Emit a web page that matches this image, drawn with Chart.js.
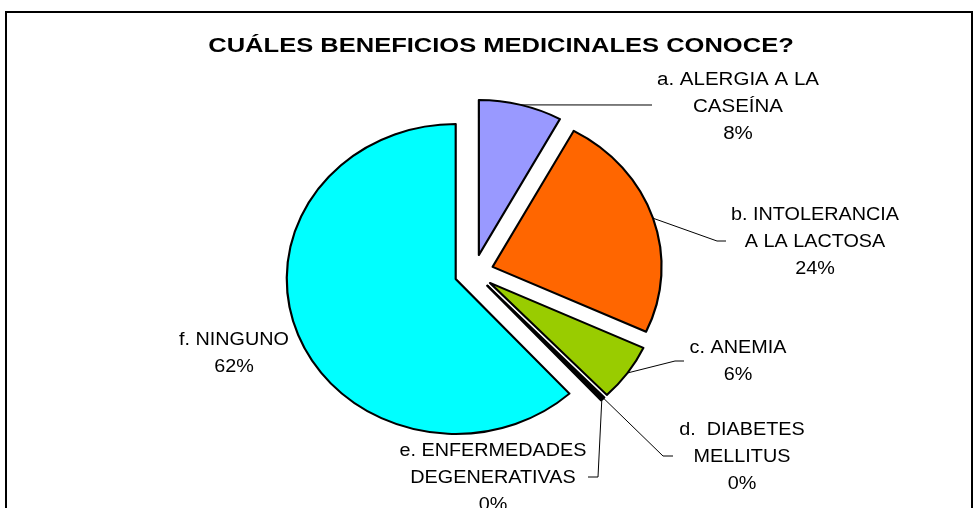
<!DOCTYPE html>
<html>
<head>
<meta charset="utf-8">
<script src="https://cdn.jsdelivr.net/npm/chart.js@4.4.1/dist/chart.umd.min.js"></script>
<style>
    html, body { margin: 0; padding: 0; background: #fff; overflow: hidden; }
    canvas { display: block; }
</style>
</head>
<body>
<canvas id="pieChart" width="979" height="508"></canvas>
<script>
// === DATOS ===
const titulo = 'CUÁLES BENEFICIOS MEDICINALES CONOCE?';
const categorias = ['a. ALERGIA A LA CASEÍNA', 'b. INTOLERANCIA A LA LACTOSA', 'c. ANEMIA',
    'd. DIABETES MELLITUS', 'e. ENFERMEDADES DEGENERATIVAS', 'f. NINGUNO'];
const valores = [8, 24, 6, 0.2, 0.2, 62];
const colores = ['#9999FF', '#FF6600', '#99CC00', '#FFFFCC', '#CCFFFF', '#00FFFF'];

// texto de los rótulos (el porcentaje se calcula)
const rotulos = [
    ['a. ALERGIA A LA', 'CASEÍNA'],
    ['b. INTOLERANCIA', 'A LA LACTOSA'],
    ['c. ANEMIA'],
    ['d.  DIABETES', 'MELLITUS'],
    ['e. ENFERMEDADES', 'DEGENERATIVAS'],
    ['f. NINGUNO']
];

// posición de rótulos y líneas guía (px)
const posRotulos = [
    { x: 738, y: 80, guia: [[652, 105]] },
    { x: 815, y: 215, guia: [[717, 241], [726, 241]] },
    { x: 738, y: 348, guia: [[675, 361], [684, 361]] },
    { x: 742, y: 430, guia: [[663, 456], [673, 456]] },
    { x: 493, y: 451, guia: [[598, 477], [588, 477]] },
    { x: 234, y: 340, guia: null }
];

const ESTIRAR = 1.09;   // el gráfico original está algo ensanchado
const SEPARAR = 18;     // separación de las porciones
const FUENTE = '"Liberation Sans", Arial, sans-serif';

const total = valores.reduce((s, v) => s + v, 0);

function textoEstirado(ctx, txt, x, y, esc) {
    ctx.save();
    ctx.translate(x, y);
    ctx.scale(esc, 1);
    ctx.fillText(txt, 0, 0);
    ctx.restore();
}

// marco del gráfico
const marcoPlugin = {
    id: 'marco',
    beforeDraw(chart) {
        const ctx = chart.ctx;
        ctx.save();
        ctx.fillStyle = '#fff';
        ctx.fillRect(0, 0, chart.width, chart.height);
        ctx.strokeStyle = '#000';
        ctx.lineWidth = 2;
        ctx.strokeRect(6, 12, 966, 600);
        ctx.restore();
    }
};

// porciones separadas (y ensanchadas) usando el propio dibujo de Chart.js
const separarPlugin = {
    id: 'separar',
    beforeDatasetsDraw(chart) {
        const ctx = chart.ctx;
        const meta = chart.getDatasetMeta(0);
        meta.data.forEach(arc => {
            const { x, y, startAngle, endAngle } = arc.getProps(['x', 'y', 'startAngle', 'endAngle'], true);
            const mid = (startAngle + endAngle) / 2;
            ctx.save();
            ctx.translate(x + Math.cos(mid) * SEPARAR * ESTIRAR, y + Math.sin(mid) * SEPARAR);
            ctx.scale(ESTIRAR, 1);
            ctx.translate(-x, -y);
            arc.draw(ctx);
            ctx.restore();
        });
        return false;
    }
};

// título, rótulos y líneas guía
const rotulosPlugin = {
    id: 'rotulos',
    afterDraw(chart) {
        const ctx = chart.ctx;
        const meta = chart.getDatasetMeta(0);
        ctx.save();
        ctx.fillStyle = '#000';
        ctx.textAlign = 'center';
        ctx.textBaseline = 'middle';

        ctx.font = 'bold 21px ' + FUENTE;
        textoEstirado(ctx, titulo, 501, 46, 1.215);

        ctx.font = '18px ' + FUENTE;
        meta.data.forEach((arc, i) => {
            const p = posRotulos[i];
            const lineas = rotulos[i].concat([Math.round(valores[i] / total * 100) + '%']);
            lineas.forEach((l, j) => textoEstirado(ctx, l, p.x, p.y + j * 27, i === 0 ? 1.14 : 1.1));

            if (p.guia) {
                const { x, y, startAngle, endAngle, outerRadius } =
                    arc.getProps(['x', 'y', 'startAngle', 'endAngle', 'outerRadius'], true);
                const mid = (startAngle + endAngle) / 2;
                const r = outerRadius + SEPARAR;
                ctx.beginPath();
                ctx.strokeStyle = '#000';
                ctx.lineWidth = 1;
                ctx.moveTo(x + Math.cos(mid) * r * ESTIRAR, y + Math.sin(mid) * r);
                p.guia.forEach(pt => ctx.lineTo(pt[0], pt[1]));
                ctx.stroke();
            }
        });
        ctx.restore();
    }
};

const ctxPie = document.getElementById('pieChart').getContext('2d');
const pieChart = new Chart(ctxPie, {
    type: 'pie',
    data: {
        labels: categorias,
        datasets: [{
            data: valores,
            backgroundColor: colores,
            borderColor: '#000',
            borderWidth: 2,
            hoverBorderWidth: 2,
            borderJoinStyle: 'round',
            hoverOffset: 0
        }]
    },
    options: {
        responsive: false,
        animation: false,
        events: [],
        layout: { padding: { left: 250, right: 281, top: 116.5, bottom: 79.5 } },
        plugins: {
            legend: { display: false },
            title: { display: false },
            tooltip: { enabled: false }
        }
    },
    plugins: [marcoPlugin, separarPlugin, rotulosPlugin]
});
</script>
</body>
</html>
